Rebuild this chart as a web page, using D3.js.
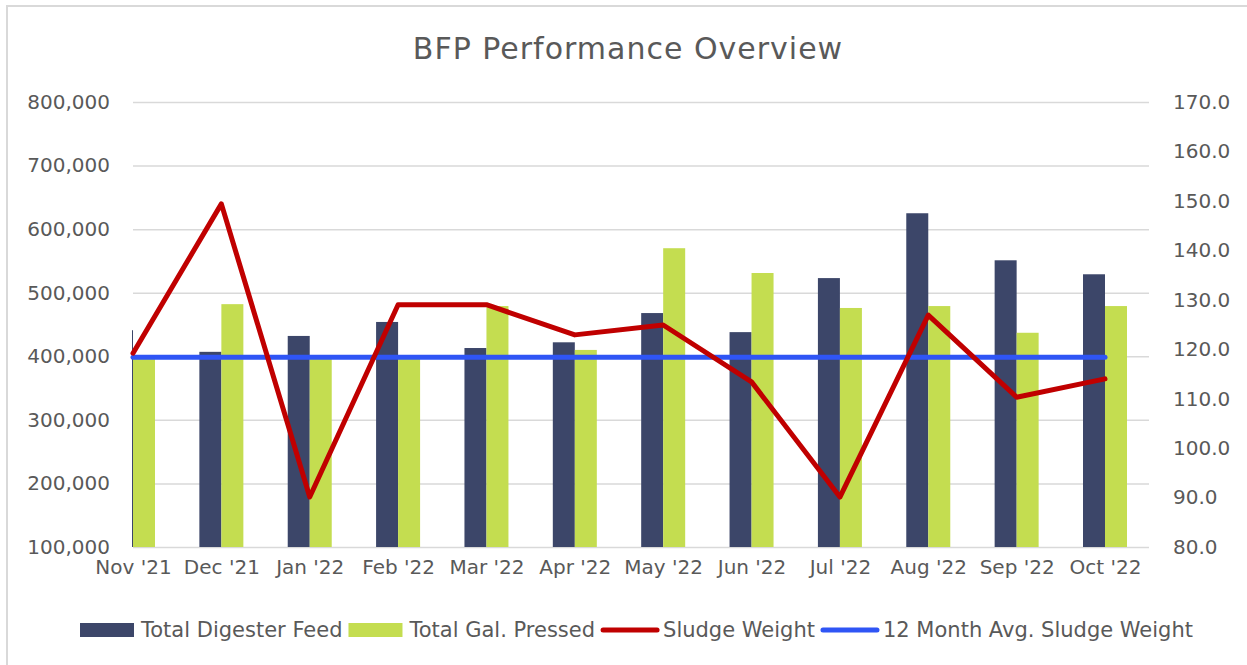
<!DOCTYPE html>
<html>
<head>
<meta charset="utf-8">
<script src="https://cdn.jsdelivr.net/npm/d3@7"></script>
<style>
  body { margin: 0; background: #fff; }
  svg text { font-family: "DejaVu Sans", sans-serif; fill: #595959; }
</style>
</head>
<body>
<div id="chart"></div>
<script>
// Chart values
var months = ["Nov '21", "Dec '21", "Jan '22", "Feb '22", "Mar '22", "Apr '22",
              "May '22", "Jun '22", "Jul '22", "Aug '22", "Sep '22", "Oct '22"];
var digesterFeed = [441000, 407000, 432000, 454000, 413000, 422000, 468000, 438000, 523000, 625000, 551000, 529000];
var galPressed = [396000, 482000, 396000, 396000, 479000, 410000, 570000, 531000, 476000, 479000, 437000, 479000];
var sludgeWeight = [119.2, 149.4, 90.1, 129.0, 129.0, 122.9, 124.9, 113.4, 90.1, 126.9, 110.3, 114.0];
var avgSludgeWeight = [118.4, 118.4, 118.4, 118.4, 118.4, 118.4, 118.4, 118.4, 118.4, 118.4, 118.4, 118.4];
var leftTicks = [100000, 200000, 300000, 400000, 500000, 600000, 700000, 800000];
var rightTicks = [80, 90, 100, 110, 120, 130, 140, 150, 160, 170];

var seriesNames = ["Total Digester Feed", "Total Gal. Pressed", "Sludge Weight", "12 Month Avg. Sludge Weight"];
var colors = ["#3c4669", "#c4dd50", "#c00000", "#2f55f5"];

var width = 1247, height = 665;
var plotLeft = 133, plotRight = 1149, plotTop = 102, plotBottom = 547;

var svg = d3.select("#chart").append("svg")
    .attr("width", width)
    .attr("height", height);

// outer chart border (only top and left edges fall inside the picture)
svg.append("rect")
    .attr("x", 7).attr("y", 6)
    .attr("width", width + 20).attr("height", height + 20)
    .attr("fill", "#fff")
    .attr("stroke", "#d9d9d9")
    .attr("stroke-width", 2);

// title
svg.append("text")
    .attr("x", 628)
    .attr("y", 59)
    .attr("text-anchor", "middle")
    .style("font-size", "30px")
    .style("letter-spacing", "1px")
    .text("BFP Performance Overview");

// scales
var x = d3.scalePoint().domain(months).range([plotLeft, 1105]);
var xSub = d3.scaleBand().domain(["feed", "pressed"]).range([-22, 22]);
var yLeft = d3.scaleLinear().domain([100000, 800000]).range([plotBottom, plotTop]);
var yRight = d3.scaleLinear().domain([80, 170]).range([plotBottom, plotTop]);

// gridlines
var grid = svg.append("g")
    .attr("transform", "translate(" + plotLeft + ",0)")
    .call(d3.axisLeft(yLeft).tickValues(leftTicks).tickSize(-(plotRight - plotLeft)).tickFormat(""));
grid.select(".domain").remove();
grid.selectAll("line").attr("stroke", "#d9d9d9").attr("stroke-width", 1.5);

// left axis
var leftAxis = svg.append("g")
    .attr("transform", "translate(" + plotLeft + ",0)")
    .call(d3.axisLeft(yLeft).tickValues(leftTicks).tickFormat(d3.format(",")).tickSize(0).tickPadding(23));
leftAxis.select(".domain").remove();
leftAxis.selectAll("text").style("font-size", "20px");

// right axis
var rightAxis = svg.append("g")
    .attr("transform", "translate(" + plotRight + ",0)")
    .call(d3.axisRight(yRight).tickValues(rightTicks).tickFormat(d3.format(".1f")).tickSize(0).tickPadding(24));
rightAxis.select(".domain").remove();
rightAxis.selectAll("text").style("font-size", "20px");

// category axis
var bottomAxis = svg.append("g")
    .attr("transform", "translate(0," + plotBottom + ")")
    .call(d3.axisBottom(x).tickSize(0).tickPadding(13));
bottomAxis.select(".domain").remove();
bottomAxis.selectAll("text").style("font-size", "20px");

// clip bars to the plot area (first category sits on the left edge)
svg.append("clipPath").attr("id", "plotClip")
  .append("rect")
    .attr("x", plotLeft - 1).attr("y", 0)
    .attr("width", plotRight - plotLeft + 1).attr("height", plotBottom + 1);

var bars = svg.append("g").attr("clip-path", "url(#plotClip)");

bars.selectAll(".feed")
    .data(digesterFeed)
    .enter().append("rect")
    .attr("class", "feed")
    .attr("x", function(d, i) { return x(months[i]) + xSub("feed"); })
    .attr("y", function(d) { return yLeft(d); })
    .attr("width", xSub.bandwidth())
    .attr("height", function(d) { return plotBottom - yLeft(d); })
    .attr("fill", colors[0]);

bars.selectAll(".pressed")
    .data(galPressed)
    .enter().append("rect")
    .attr("class", "pressed")
    .attr("x", function(d, i) { return x(months[i]) + xSub("pressed"); })
    .attr("y", function(d) { return yLeft(d); })
    .attr("width", xSub.bandwidth())
    .attr("height", function(d) { return plotBottom - yLeft(d); })
    .attr("fill", colors[1]);

// line series on the secondary axis
var line = d3.line()
    .x(function(d, i) { return x(months[i]); })
    .y(function(d) { return yRight(d); });

svg.append("path")
    .datum(avgSludgeWeight)
    .attr("d", line)
    .attr("fill", "none")
    .attr("stroke", colors[3])
    .attr("stroke-width", 5)
    .attr("stroke-linecap", "round");

svg.append("path")
    .datum(sludgeWeight)
    .attr("d", line)
    .attr("fill", "none")
    .attr("stroke", colors[2])
    .attr("stroke-width", 5)
    .attr("stroke-linejoin", "round")
    .attr("stroke-linecap", "round");

// legend
var legend = svg.append("g");
var lx = 80, ly = 630;
seriesNames.forEach(function(name, i) {
    if (i < 2) {
        legend.append("rect")
            .attr("x", lx).attr("y", ly - 7)
            .attr("width", 54).attr("height", 14)
            .attr("fill", colors[i]);
    } else {
        legend.append("line")
            .attr("x1", lx + 2).attr("x2", lx + 56)
            .attr("y1", ly).attr("y2", ly)
            .attr("stroke", colors[i])
            .attr("stroke-width", 5)
            .attr("stroke-linecap", "round");
    }
    var t = legend.append("text")
        .attr("x", lx + (i < 2 ? 61 : 62))
        .attr("y", ly)
        .attr("dy", "0.35em")
        .style("font-size", "21px")
        .text(name);
    lx += (i < 2 ? 61 : 62) + t.node().getComputedTextLength() + 6;
});
</script>
</body>
</html>
